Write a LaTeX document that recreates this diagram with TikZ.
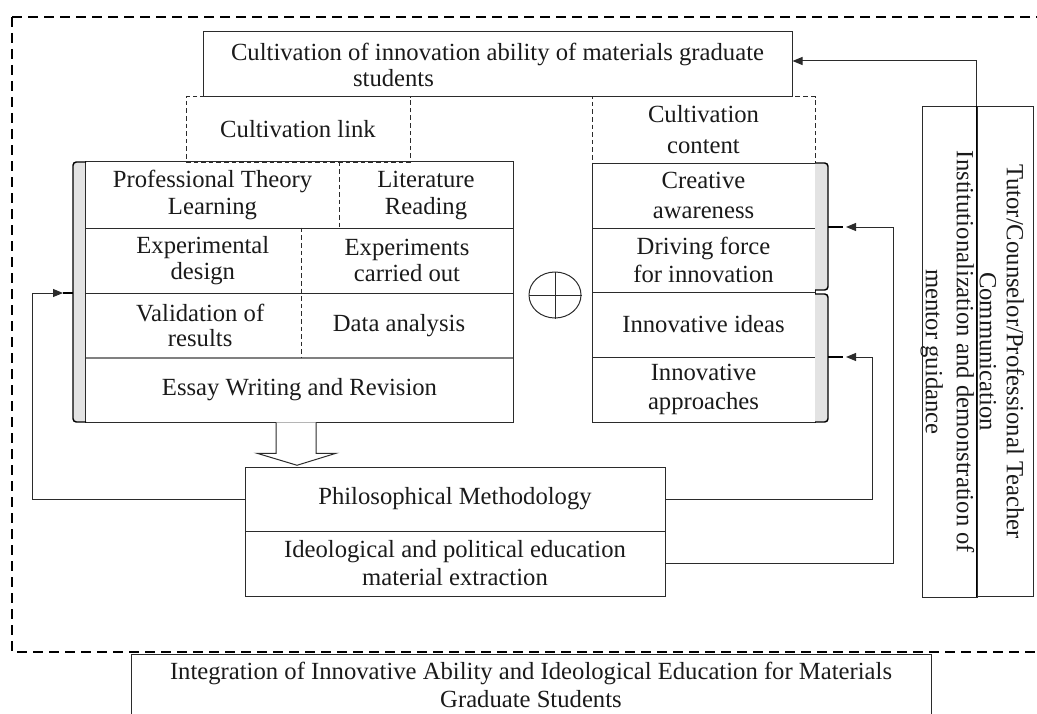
\documentclass[tikz,border=0pt]{standalone}
\usepackage{fontspec}
\setmainfont{Liberation Serif}
\usetikzlibrary{arrows.meta,calc,shapes.geometric}
\definecolor{ink}{HTML}{1A1A1A}
\definecolor{lineink}{HTML}{2B2B2B}
\definecolor{bargray}{HTML}{E3E3E3}
% #1 style, #2 name, #3 x1, #4 y1, #5 x2, #6 y2, #7 text
\newcommand{\rbox}[7]{%
  \pgfmathsetmacro\rbw{(#5-#3)*0.75}%
  \pgfmathsetmacro\rbh{(#6-#4)*0.75}%
  \node[#1, minimum width=\rbw pt, minimum height=\rbh pt] (#2) at ({(#3+#5)/2},{(#4+#6)/2}) {#7};}
\begin{document}
\begin{tikzpicture}[x=0.75pt,y=-0.75pt,
  font=\fontsize{18.5}{20.25}\selectfont, text=ink,
  box/.style={draw=lineink, line width=0.75pt, inner sep=0pt, align=center, rectangle},
  cell/.style={inner sep=0pt, align=center, rectangle},
  dbox/.style={draw=lineink, line width=0.75pt, dash pattern=on 3.5pt off 2.2pt, inner sep=0pt, align=center, rectangle},
  outerdash/.style={draw=black, line width=1.4pt, dash pattern=on 7.5pt off 4.5pt},
  gridline/.style={draw=lineink, line width=0.75pt},
  divdash/.style={draw=lineink, line width=0.6pt, dash pattern=on 3.5pt off 2.2pt},
  brace/.style={draw=black, line width=1.1pt, rounded corners=2.5pt},
  conn/.style={draw=lineink, line width=0.75pt},
  arr/.style={conn, -{Triangle[length=7.5pt,width=6pt]}}
]
\path[use as bounding box] (0,0) rectangle (1037,713);
\clip (0,0) rectangle (1037,713);

% outer dashed frame
\draw[outerdash] (12,17) rectangle (1070,652);

% top box
\rbox{box, font=\fontsize{18.5}{19.5}\selectfont}{top}{203}{32}{792}{97}{Cultivation of innovation ability of materials graduate\\students\hspace*{156pt}}

% dashed headers
\rbox{dbox}{link}{186}{97}{410}{162}{Cultivation link}
\rbox{dbox, font=\fontsize{18.5}{23.25}\selectfont}{content}{592}{97}{815}{163}{Cultivation\\content}

% left grid cells
\rbox{cell}{r1a}{86}{162}{339}{228}{Professional Theory\\Learning}
\rbox{cell}{r1b}{339}{162}{513}{228}{Literature\\Reading}
\rbox{cell, font=\fontsize{18.5}{19}\selectfont}{r2a}{86}{228}{301}{293}{\hspace*{14pt}Experimental\\\hspace*{14pt}design}
\rbox{cell, font=\fontsize{18.5}{19}\selectfont}{r2b}{301}{228}{513}{293}{Experiments\\carried out}
\rbox{cell, font=\fontsize{18.5}{19}\selectfont}{r3a}{86}{293}{301}{358}{\hspace*{10pt}Validation of\\\hspace*{10pt}results}
\rbox{cell}{r3b}{301}{293}{513}{358}{Data analysis\hspace*{12pt}}
\rbox{cell}{essay}{86}{358}{513}{422}{Essay Writing and Revision}

% left bracket bar
\fill[bargray] (73,162) rectangle (86,422);
\draw[gridline] (r1a.north west) rectangle (essay.south east);
\draw[gridline] (r1a.south west) -- (r1b.south east);
\draw[gridline] (r2a.south west) -- (r2b.south east);
\draw[draw=gray, line width=1.8pt] (r3a.south west) -- (r3b.south east);
\draw[divdash] (r1a.north east) -- (r1a.south east);
\draw[divdash] (r2a.north east) -- (r3a.south east);
\draw[brace] (86,162) -- (73,162) -- (73,422) -- (86,422);
\draw[draw=black, line width=1.1pt] (73,293) -- (63,293);

% right cells
\rbox{box, font=\fontsize{18.5}{22.5}\selectfont}{creative}{592}{163}{815}{228}{Creative\\awareness}
\rbox{box, font=\fontsize{18.5}{21}\selectfont}{driving}{592}{228}{815}{292}{Driving force\\for innovation}
\rbox{box}{ideas}{592}{292}{815}{357}{Innovative ideas}
\rbox{box, font=\fontsize{18.5}{21.75}\selectfont}{approaches}{592}{357}{815}{422}{Innovative\\approaches}

% right braces
\fill[bargray] (815,163) rectangle (828,290);
\fill[bargray] (815,294) rectangle (828,422);
\draw[brace] (815,163) -- (828,163) -- (828,290) -- (815,290);
\draw[brace] (815,294) -- (828,294) -- (828,422) -- (815,422);
\draw[draw=black, line width=1.1pt] (828,227) -- (843,227);
\draw[draw=black, line width=1.1pt] (828,357) -- (843,357);

% circle plus
\node[draw=lineink, line width=0.75pt, ellipse, minimum width=39pt, minimum height=34.5pt, inner sep=0pt] (oplus) at (555,295) {};
\draw[conn] (oplus.north) -- (oplus.south);
\draw[conn] (oplus.west) -- (oplus.east);

% bottom-middle boxes
\rbox{box}{phil}{245}{467}{665}{531}{Philosophical Methodology}
\rbox{box, font=\fontsize{18.5}{21}\selectfont}{ideo}{245}{531}{665}{596}{Ideological and political education\\material extraction}

% hollow arrow from essay to phil
\draw[draw=lineink, line width=0.75pt, fill=white]
  ($(essay.south)+(-23.5,0)$) -- ($(essay.south)+(-23.5,31)$) -- ($(essay.south)+(-42.5,31)$)
  -- ($(essay.south)+(-2.5,43)$) -- ($(essay.south)+(36.5,31)$) -- ($(essay.south)+(16.5,31)$)
  -- ($(essay.south)+(16.5,0)$);

% right vertical boxes
\rbox{box}{inst}{922}{107}{977}{597}{}
\rbox{box}{tutor}{977}{107}{1033}{596}{}
\node[rotate=-90, align=center, font=\fontsize{18.5}{23.25}\selectfont] (insttext) at ($(inst.center)+(-2,0)$) {Institutionalization and demonstration of\\mentor guidance};
\node[rotate=-90, align=center] (tutortext) at ($(tutor.center)+(-3,0)$) {Tutor/Counselor/Professional Teacher\\Communication};
\draw[draw=black, line width=1.3pt] (tutor.north west) -- (tutor.south west);

% bottom box
\rbox{box, font=\fontsize{18.5}{21}\selectfont}{integ}{131}{654}{931}{716}{Integration of Innovative Ability and Ideological Education for Materials\\Graduate Students}

% connectors
\coordinate (topin) at ($(top.east)+(0,-3.5)$);
\draw[arr] (tutor.north west) |- (topin);

\coordinate (lcorner) at (32,293);
\coordinate (ltip) at (63,293);
\draw[arr] (phil.west) -| (lcorner) -- (ltip);

\coordinate (r2corner) at (872,357);
\coordinate (r2tip) at (846,357);
\draw[arr] (phil.east) -| (r2corner) -- (r2tip);

\coordinate (r1corner) at (893,227);
\coordinate (r1tip) at (846,227);
\draw[arr] (ideo.east) -| (r1corner) -- (r1tip);
\end{tikzpicture}
\end{document}
